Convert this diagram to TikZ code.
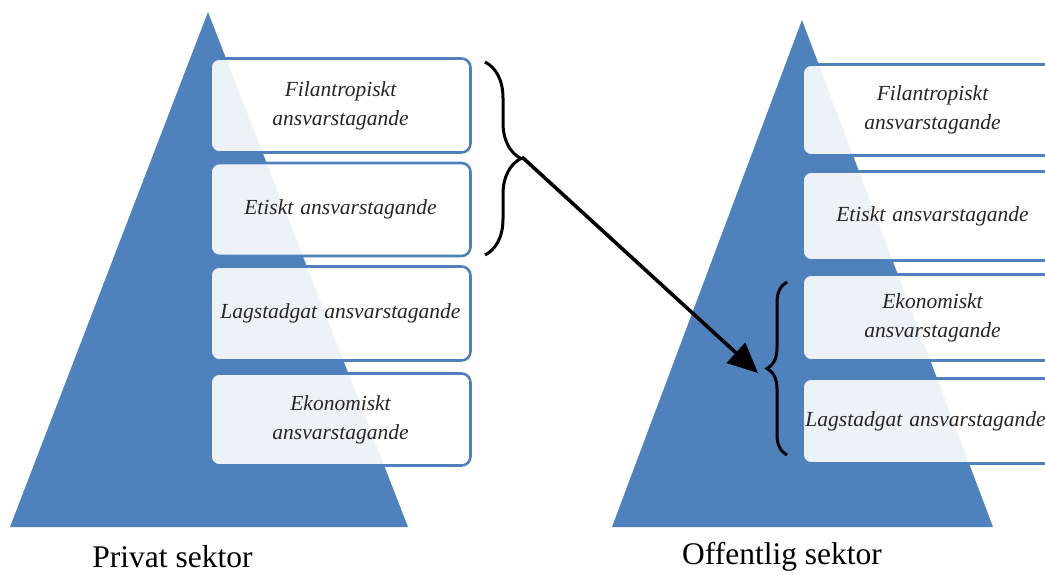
\documentclass[tikz,border=0pt]{standalone}
\usepackage{fontspec}
\setmainfont{Liberation Serif}
\usetikzlibrary{decorations.pathreplacing,arrows.meta}
\definecolor{pblue}{HTML}{4F81BD}
\tikzset{
  pyr/.style={fill=pblue, draw=none},
  lvl/.style={draw=pblue, line width=2.6pt, rounded corners=9pt, fill=white, fill opacity=0.9, text opacity=1,
     minimum width=260pt, inner sep=1pt, text width=258pt, align=center,
     font=\fontsize{21.5}{29}\selectfont\itshape, text=black!85},
  brc/.style={draw=black, line width=3pt, decorate},
  lbl/.style={font=\fontsize{31.5}{34}\selectfont, text=black},
  arr/.style={draw=black, line width=3.6pt, -{Triangle[length=30pt,width=27pt]}}
}
\begin{document}
\begin{tikzpicture}[x=1pt,y=-1pt]
\useasboundingbox (0,0) rectangle (1045,576);
% pyramids
\path[pyr] (208,12) -- (408,527) -- (10,527) -- cycle;
\path[pyr] (802,20) -- (993,527) -- (612,527) -- cycle;
% left levels
\node[lvl, minimum height=94pt] (l1) at (340.5,105.5) {Filantropiskt\\ansvarstagande};
\node[lvl, minimum height=93pt] (l2) at (340.5,209.5) {Etiskt ansvarstagande};
\node[lvl, minimum height=94pt] (l3) at (340.5,313.5) {Lagstadgat ansvarstagande};
\node[lvl, minimum height=92pt] (l4) at (340.5,419.5) {Ekonomiskt\\ansvarstagande};
% right levels
\node[lvl, minimum height=91pt] (r1) at (932.5,110) {Filantropiskt\\ansvarstagande};
\node[lvl, minimum height=89pt] (r2) at (932.5,216) {Etiskt ansvarstagande};
\node[lvl, minimum height=86pt] (r3) at (932.5,317.5) {Ekonomiskt\\ansvarstagande};
\node[lvl, minimum height=85pt] (r4) at (932.5,421) {Lagstadgat ansvarstagande\hspace*{14pt}};
% braces
\draw[brc, decoration={brace, amplitude=36pt}] (485,62) -- (485,255);
\draw[brc, decoration={brace, amplitude=20pt}] (787,455) -- (787,282);
\coordinate (btip) at (522,157);
\coordinate (atip) at (758,373);
\draw[arr] (btip) -- (atip);
% labels
\node[lbl] (p) at (172.5,557) {Privat sektor};
\node[lbl] (o) at (782,557) {Offentlig sektor};
\end{tikzpicture}
\end{document}
